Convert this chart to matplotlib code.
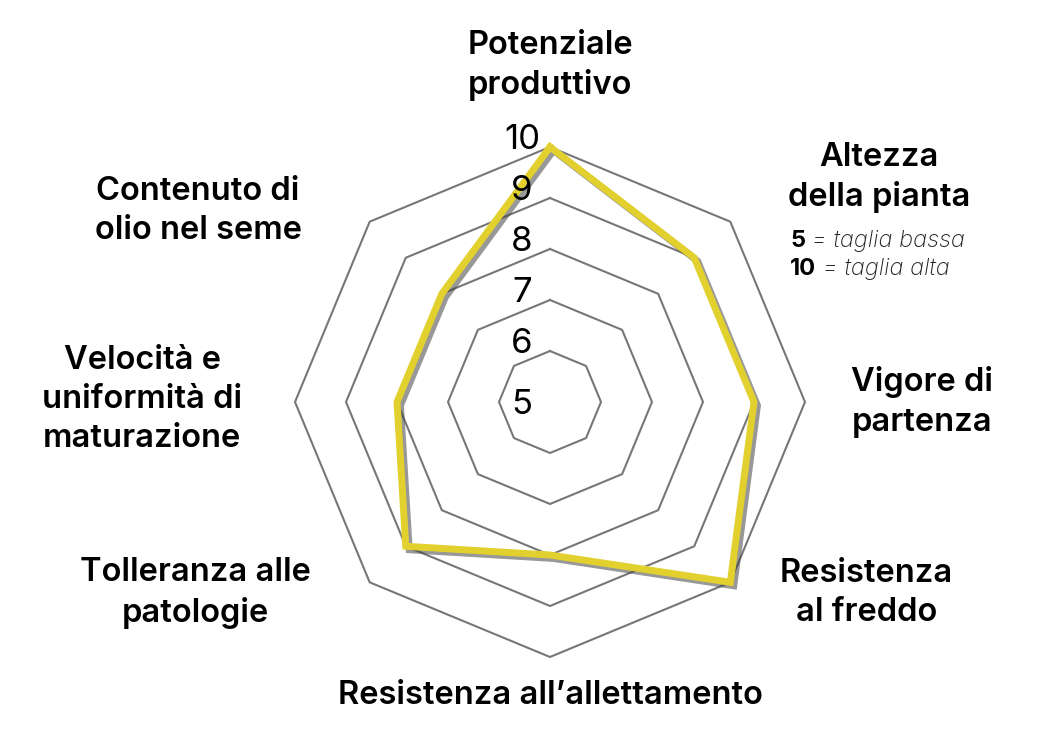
import numpy as np
import matplotlib.pyplot as plt
import matplotlib.patheffects as pe

plt.rcParams['font.family'] = ['Inter', 'DejaVu Sans']

categories = ['Potenziale\nproduttivo', 'Altezza\ndella pianta', 'Vigore di\npartenza',
              'Resistenza\nal freddo', 'Resistenza all’allettamento',
              'Tolleranza alle\npatologie', 'Velocità e\nuniformità di\nmaturazione',
              'Contenuto di\nolio nel seme']
values = [10, 9, 9, 10, 8, 9, 8, 8]
rings = [6, 7, 8, 9, 10]
ring_labels = [5, 6, 7, 8, 9, 10]
vmin = 5

# label centres in chart units (1 unit = one ring step)
label_pos = [(0.0, 6.6), (6.45, 4.4), (7.3, 0.0), (6.2, -3.75),
             (0.0, -5.75), (-6.95, -3.75), (-8.0, 0.05), (-6.9, 3.75)]

n = len(categories)
ang = np.pi / 2 - np.arange(n) * 2 * np.pi / n

fig = plt.figure(figsize=(10.5, 7.29), dpi=100)
unit = 51.0
cx, cy = 550, 402
ax = fig.add_axes([0, 0, 1, 1])
ax.set_xlim(-cx / unit, (1050 - cx) / unit)
ax.set_ylim(-(729 - cy) / unit, cy / unit)
ax.axis('off')

# octagonal grid
for r in rings:
    rr = r - vmin
    xs = np.append(rr * np.cos(ang), rr * np.cos(ang[0]))
    ys = np.append(rr * np.sin(ang), rr * np.sin(ang[0]))
    ax.plot(xs, ys, color='#777777', lw=1.5, zorder=1)

# data line
r = np.array(values) - vmin
xs = np.append(r * np.cos(ang), r[0] * np.cos(ang[0]))
ys = np.append(r * np.sin(ang), r[0] * np.sin(ang[0]))
ax.plot(xs, ys, color='#E2D02E', lw=5, solid_joinstyle='miter', zorder=3,
        path_effects=[pe.SimpleLineShadow(offset=(2.5, -2.5), shadow_color='#444444', alpha=0.55),
                      pe.Normal()])

# scale labels
for v in ring_labels:
    off = 0.13 if v > vmin else -0.05
    ax.text(-0.55, v - vmin + off, str(v), fontsize=25, ha='center', va='center',
            color='black', zorder=4)

for lab, (lx, ly) in zip(categories, label_pos):
    ax.text(lx, ly, lab, fontsize=23.5, fontweight='semibold', ha='center', va='center',
            linespacing=1.35, color='black')

# note under "Altezza della pianta"
notes = [('5', ' = taglia bassa'), ('10', ' = taglia alta')]
for i, (num, txt) in enumerate(notes):
    t = ax.text((790 - cx) / unit, (cy - 241 - i * 28) / unit, num, fontsize=17,
                fontweight='bold', ha='left', va='center')
    ax.annotate(txt, xy=(1, 0), xycoords=t, va='bottom', ha='left', fontsize=17,
                style='italic', fontweight='light', color='#222222')

fig.savefig('out.png', dpi=100, facecolor='white')
